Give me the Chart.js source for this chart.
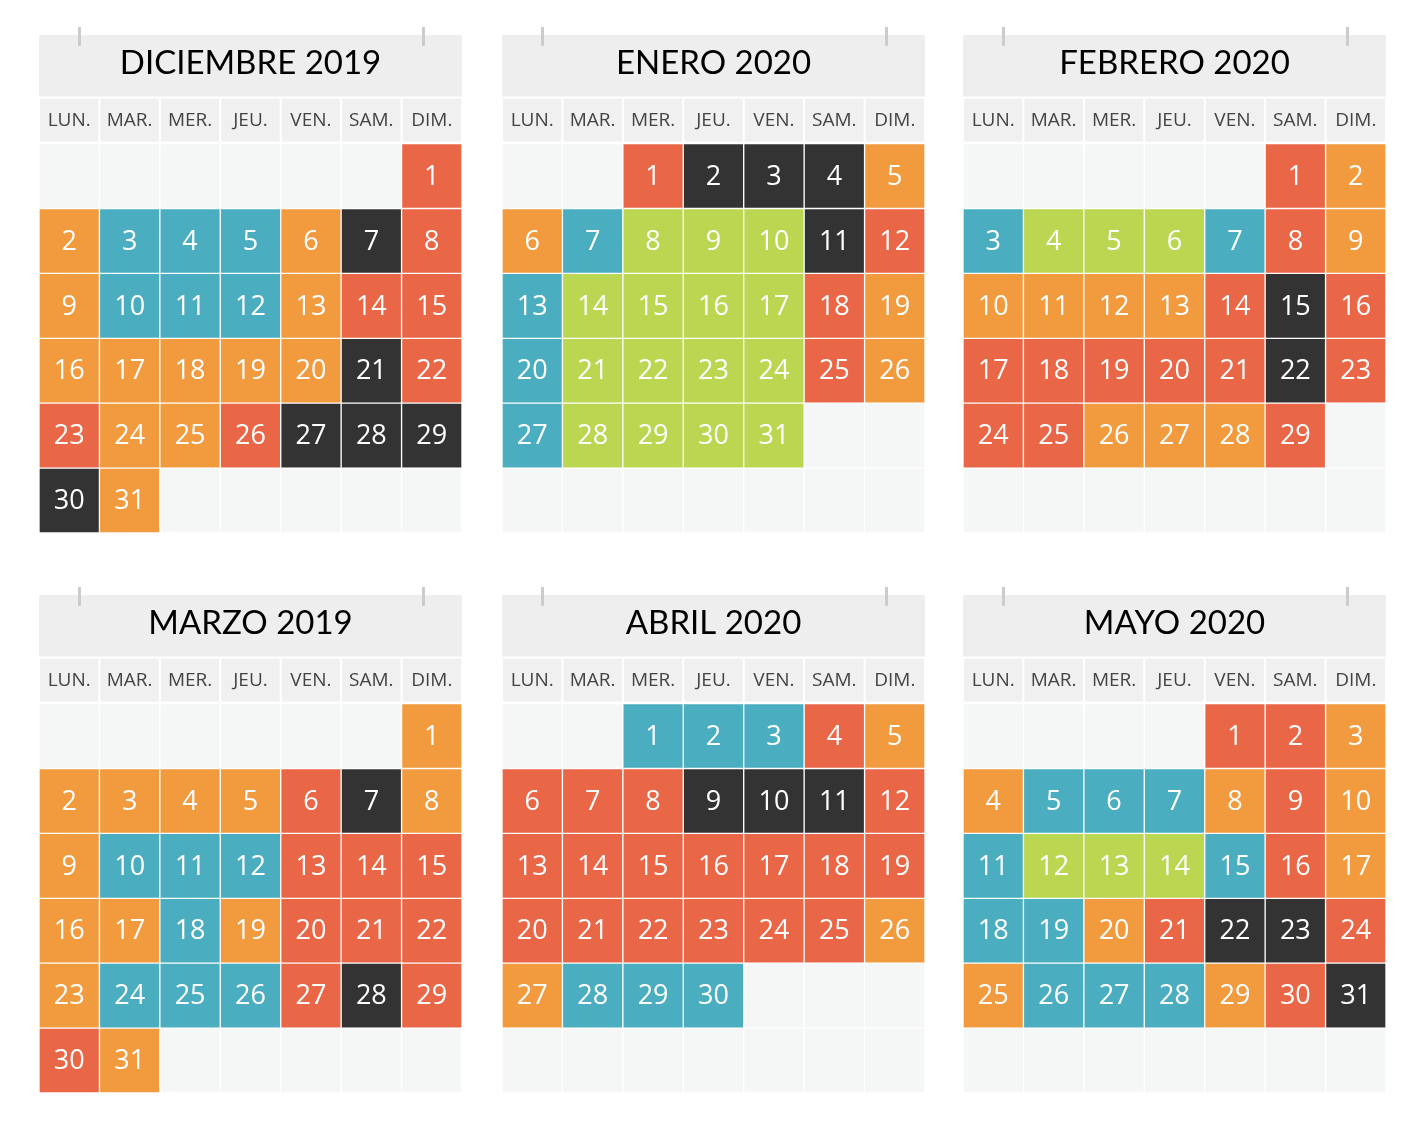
<!DOCTYPE html>
<html>
<head>
<meta charset="utf-8">
<script src="https://cdn.jsdelivr.net/npm/chart.js@4.4.1/dist/chart.umd.min.js"></script>
<style>
  body { margin: 0; background: #fff; }
  #page { position: relative; width: 1414px; height: 1125px; overflow: hidden; }
  #page canvas { position: absolute; }
</style>
</head>
<body>
<div id="page"></div>
<script>
// Weekday headers and month titles
const weekdays = ["LUN.", "MAR.", "MER.", "JEU.", "VEN.", "SAM.", "DIM."]
const monthTitles = ["DICIEMBRE 2019", "ENERO 2020", "FEBRERO 2020", "MARZO 2019", "ABRIL 2020", "MAYO 2020"]
// Column (0 = LUN.) of day 1, and number of days in each month
const firstWeekday = [6, 2, 5, 6, 2, 4]
const dayCounts = [31, 31, 29, 31, 30, 31]

// Category of each day: O orange, R red, T teal, K black, G green
const diciembre = [
  "R",
  "O", "T", "T", "T", "O", "K", "R",
  "O", "T", "T", "T", "O", "R", "R",
  "O", "O", "O", "O", "O", "K", "R",
  "R", "O", "O", "R", "K", "K", "K",
  "K", "O",
]
const enero = [
  "R", "K", "K", "K", "O",
  "O", "T", "G", "G", "G", "K", "R",
  "T", "G", "G", "G", "G", "R", "O",
  "T", "G", "G", "G", "G", "R", "O",
  "T", "G", "G", "G", "G",
]
const febrero = [
  "R", "O",
  "T", "G", "G", "G", "T", "R", "O",
  "O", "O", "O", "O", "R", "K", "R",
  "R", "R", "R", "R", "R", "K", "R",
  "R", "R", "O", "O", "O", "R",
]
const marzo = [
  "O",
  "O", "O", "O", "O", "R", "K", "O",
  "O", "T", "T", "T", "R", "R", "R",
  "O", "O", "T", "O", "R", "R", "R",
  "O", "T", "T", "T", "R", "K", "R",
  "R", "O",
]
const abril = [
  "T", "T", "T", "R", "O",
  "R", "R", "R", "K", "K", "K", "R",
  "R", "R", "R", "R", "R", "R", "R",
  "R", "R", "R", "R", "R", "R", "O",
  "O", "T", "T", "T",
]
const mayo = [
  "R", "R", "O",
  "O", "T", "T", "T", "O", "R", "O",
  "T", "G", "G", "G", "T", "R", "O",
  "T", "T", "O", "R", "K", "K", "R",
  "O", "T", "T", "T", "O", "R", "K",
]
const monthDays = [diciembre, enero, febrero, marzo, abril, mayo]

const palette = { O: "#f29b3e", R: "#e96647", T: "#4aaec0", K: "#333333", G: "#bbd651" }
const emptyColor = "#f5f6f6"

// where each calendar sits on the page
const lefts = [39, 502, 963, 39, 502, 963]
const tops = [25, 25, 25, 585, 585, 585]
const W = 423
const H = 508

// grey title band, header cells and the two hanger marks
const calendarFrame = {
  id: "calendarFrame",
  beforeDraw(chart) {
    const ctx = chart.ctx
    const x = chart.scales.x
    ctx.save()
    ctx.fillStyle = "#eeeeee"
    ctx.fillRect(0, 10, chart.width, x.top - 10)
    const w = x.width / weekdays.length
    ctx.fillStyle = "#f0f0f0"
    weekdays.forEach((d, i) => {
      const cx = x.getPixelForTick(i)
      ctx.fillRect(cx - w / 2 + 1, x.top + 2, w - 2, x.height - 4)
    })
    ctx.fillStyle = "#cccccc"
    ctx.fillRect(39, 2, 3, 19)
    ctx.fillRect(383, 2, 3, 19)
    ctx.restore()
  },
}

// day numbers in the middle of each cell
const dayLabels = {
  id: "dayLabels",
  afterDatasetsDraw(chart) {
    const ctx = chart.ctx
    const data = chart.data.datasets[0].data
    ctx.save()
    ctx.fillStyle = "#ffffff"
    ctx.font = "27px 'Open Sans'"
    ctx.textAlign = "center"
    ctx.textBaseline = "middle"
    chart.getDatasetMeta(0).data.forEach((bar, i) => {
      if (data[i].day == null) return
      const p = bar.getCenterPoint()
      ctx.fillText(String(data[i].day), p.x, p.y + 1)
    })
    ctx.restore()
  },
}

const page = document.getElementById("page")

monthTitles.forEach((title, m) => {
  const canvas = document.createElement("canvas")
  canvas.width = W
  canvas.height = H
  canvas.style.left = lefts[m] + "px"
  canvas.style.top = tops[m] + "px"
  page.appendChild(canvas)

  const cells = []
  const colors = []
  for (let i = 0; i < 42; i++) {
    const row = Math.floor(i / 7)
    const col = i % 7
    const day = i - firstWeekday[m] + 1
    const inMonth = day >= 1 && day <= dayCounts[m]
    cells.push({ x: weekdays[col], y: [row, row + 1], day: inMonth ? day : null })
    colors.push(inMonth ? palette[monthDays[m][day - 1]] : emptyColor)
  }

  new Chart(canvas, {
    type: "bar",
    data: {
      labels: weekdays,
      datasets: [
        {
          data: cells,
          backgroundColor: colors,
          borderColor: "#ffffff",
          borderWidth: 1,
          borderSkipped: false,
          barPercentage: 1,
          categoryPercentage: 1,
        },
      ],
    },
    options: {
      responsive: false,
      animation: false,
      layout: { padding: { top: 10 } },
      plugins: {
        legend: { display: false },
        tooltip: { enabled: false },
        title: {
          display: true,
          text: title,
          color: "#000000",
          font: { family: "Lato", size: 33, weight: "normal" },
          padding: { top: 9, bottom: 13 },
        },
      },
      scales: {
        x: {
          position: "top",
          grid: { display: false, drawTicks: false },
          border: { display: false },
          ticks: {
            color: "#444444",
            font: { family: "Open Sans", size: 19, lineHeight: "46px" },
            padding: 0,
          },
          afterFit(scale) {
            scale.height = 47
          },
        },
        y: { display: false, min: 0, max: 6, reverse: true },
      },
    },
    plugins: [calendarFrame, dayLabels],
  })
})
</script>
</body>
</html>
